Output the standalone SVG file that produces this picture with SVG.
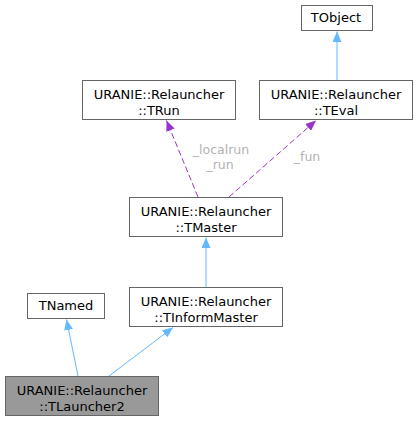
<svg xmlns="http://www.w3.org/2000/svg" width="419" height="421" viewBox="0 0 419 421">
<style>
.box{fill:#ffffff;stroke:#666666;stroke-width:1}
.cur{fill:#999999;stroke:#666666;stroke-width:1}
text{font-family:"DejaVu Sans",sans-serif;font-size:13px;fill:#000000;text-anchor:middle}
.lbl{fill:#b3b3b3;font-size:12.5px}
.inh{stroke:#63b8ff;stroke-width:1;fill:none}
.use{stroke:#9a32cd;stroke-width:1;fill:none;stroke-dasharray:6,3}
</style>
<defs>
<marker id="ab" markerWidth="11" markerHeight="9" refX="10.5" refY="4.5" orient="auto" markerUnits="userSpaceOnUse">
<path d="M0,0 L10.5,4.5 L0,9 z" fill="#63b8ff"/>
</marker>
<marker id="ap" markerWidth="11" markerHeight="9" refX="10.5" refY="4.5" orient="auto" markerUnits="userSpaceOnUse">
<path d="M0,0 L10.5,4.5 L0,9 z" fill="#9a32cd"/>
</marker>
</defs>
<g id="edges">
<line class="inh" x1="337" y1="80" x2="337" y2="31.5" marker-end="url(#ab)"/>
<line class="use" x1="198" y1="197" x2="166.5" y2="120.5" marker-end="url(#ap)"/>
<line class="use" x1="229" y1="197" x2="316" y2="120.5" marker-end="url(#ap)"/>
<line class="inh" x1="206" y1="287" x2="206" y2="237.5" marker-end="url(#ab)"/>
<line class="inh" x1="78" y1="376" x2="66.5" y2="319.5" marker-end="url(#ab)"/>
<line class="inh" x1="109" y1="376" x2="173" y2="327.5" marker-end="url(#ab)"/>
<text class="lbl" x="221" y="154">_localrun</text>
<text class="lbl" x="220" y="169">_run</text>
<text class="lbl" x="307" y="161">_fun</text>
</g>
<g id="TObject">
<rect class="box" x="301.5" y="5.5" width="71" height="25"/>
<text x="336" y="21.5">TObject</text>
</g>
<g id="TRun">
<rect class="box" x="82.5" y="80.5" width="153" height="39"/>
<text x="159" y="99">URANIE::Relauncher</text>
<text x="159" y="115">::TRun</text>
</g>
<g id="TEval">
<rect class="box" x="259.5" y="80.5" width="153" height="39"/>
<text x="336" y="99">URANIE::Relauncher</text>
<text x="336" y="115">::TEval</text>
</g>
<g id="TMaster">
<rect class="box" x="129.5" y="197.5" width="153" height="39"/>
<text x="206" y="216">URANIE::Relauncher</text>
<text x="206" y="232">::TMaster</text>
</g>
<g id="TInformMaster">
<rect class="box" x="129.5" y="287.5" width="153" height="39"/>
<text x="206" y="306">URANIE::Relauncher</text>
<text x="206" y="322">::TInformMaster</text>
</g>
<g id="TNamed">
<rect class="box" x="27.5" y="293.5" width="77" height="25"/>
<text x="66" y="310">TNamed</text>
</g>
<g id="TLauncher2">
<rect class="cur" x="5.5" y="376.5" width="153" height="39"/>
<text x="82" y="395">URANIE::Relauncher</text>
<text x="82" y="411">::TLauncher2</text>
</g>
</svg>
